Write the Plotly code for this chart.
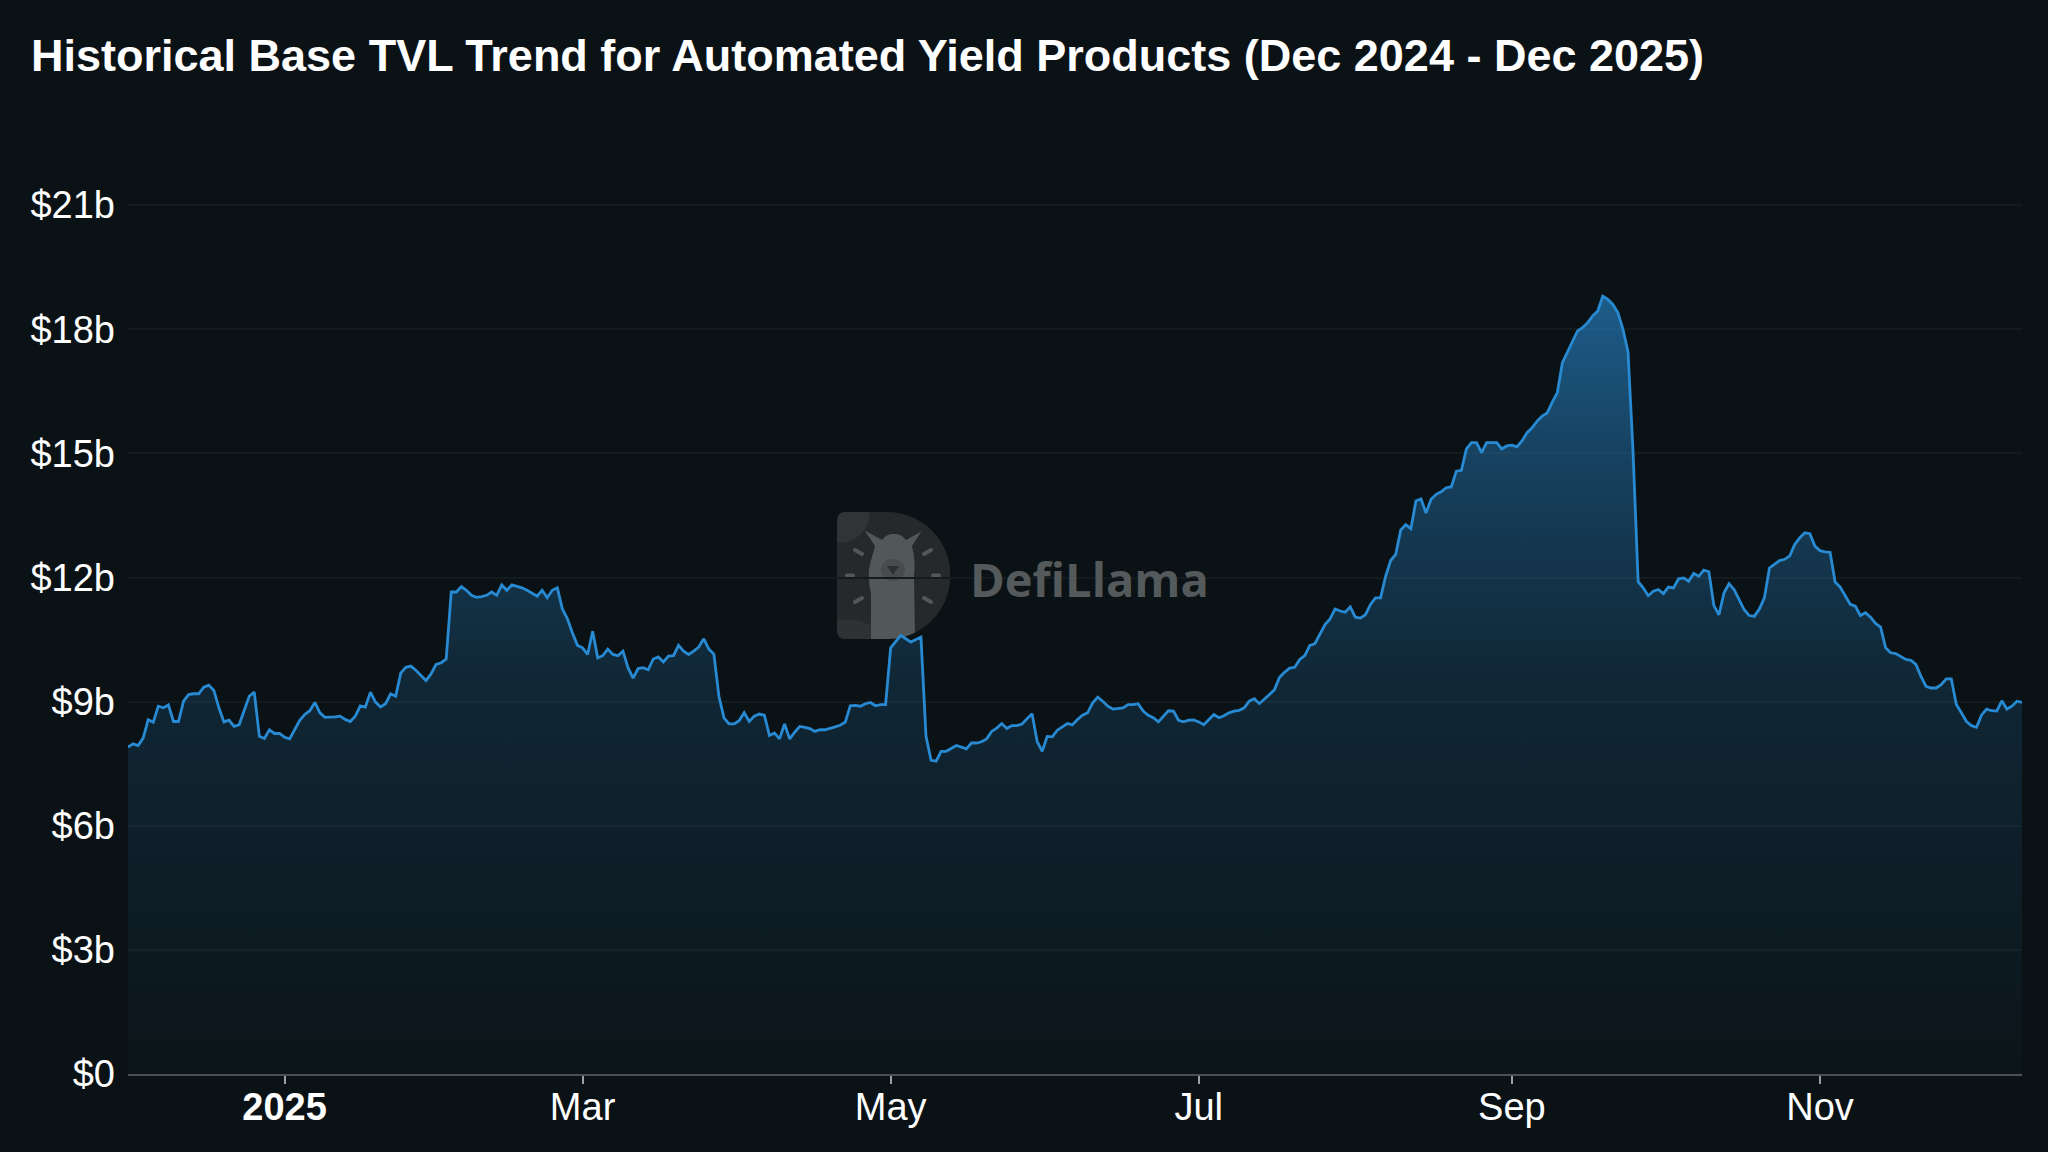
import base64
import pandas as pd
import plotly.graph_objects as go

# ---------------- data (daily, starting 2024-12-01) ----------------
start_date = "2024-12-01"
tvl_billions = [
    7.90, 7.98, 7.94, 8.12, 8.56, 8.50, 8.89, 8.85, 8.92, 8.52,
    8.52, 9.01, 9.17, 9.19, 9.19, 9.35, 9.40, 9.27, 8.85, 8.51,
    8.55, 8.40, 8.44, 8.78, 9.13, 9.23, 8.16, 8.11, 8.32, 8.23,
    8.23, 8.14, 8.10, 8.32, 8.55, 8.69, 8.78, 8.98, 8.73, 8.62,
    8.62, 8.63, 8.65, 8.57, 8.52, 8.65, 8.90, 8.87, 9.23, 8.99,
    8.87, 8.95, 9.19, 9.13, 9.69, 9.83, 9.86, 9.76, 9.63, 9.51,
    9.67, 9.90, 9.94, 10.03, 11.65, 11.65, 11.78, 11.69, 11.57, 11.52,
    11.54, 11.57, 11.65, 11.57, 11.82, 11.69, 11.82, 11.79, 11.75, 11.69,
    11.61, 11.55, 11.69, 11.51, 11.69, 11.75, 11.24, 11.00, 10.66, 10.36,
    10.30, 10.14, 10.70, 10.06, 10.11, 10.27, 10.14, 10.11, 10.22, 9.82,
    9.57, 9.80, 9.82, 9.77, 10.03, 10.08, 9.96, 10.10, 10.11, 10.36,
    10.22, 10.14, 10.22, 10.32, 10.52, 10.27, 10.15, 9.13, 8.61, 8.46,
    8.46, 8.54, 8.73, 8.52, 8.65, 8.70, 8.67, 8.18, 8.24, 8.10,
    8.46, 8.10, 8.26, 8.40, 8.38, 8.35, 8.28, 8.32, 8.32, 8.35,
    8.39, 8.43, 8.50, 8.90, 8.91, 8.89, 8.95, 8.98, 8.90, 8.93,
    8.93, 10.30, 10.46, 10.60, 10.52, 10.44, 10.50, 10.56, 8.16, 7.58,
    7.56, 7.80, 7.80, 7.86, 7.94, 7.90, 7.86, 8.00, 8.00, 8.03,
    8.10, 8.28, 8.36, 8.47, 8.35, 8.42, 8.42, 8.46, 8.59, 8.71,
    8.04, 7.80, 8.16, 8.15, 8.31, 8.40, 8.47, 8.44, 8.57, 8.67,
    8.73, 8.97, 9.11, 9.01, 8.89, 8.82, 8.83, 8.85, 8.93, 8.93,
    8.95, 8.77, 8.67, 8.61, 8.51, 8.65, 8.78, 8.77, 8.55, 8.51,
    8.55, 8.56, 8.51, 8.44, 8.56, 8.69, 8.61, 8.66, 8.73, 8.77,
    8.79, 8.85, 9.01, 9.07, 8.95, 9.05, 9.17, 9.29, 9.59, 9.71,
    9.81, 9.83, 10.02, 10.11, 10.36, 10.40, 10.62, 10.86, 11.00, 11.24,
    11.19, 11.16, 11.29, 11.04, 11.02, 11.10, 11.35, 11.51, 11.51, 12.03,
    12.41, 12.56, 13.15, 13.28, 13.18, 13.85, 13.90, 13.56, 13.89, 14.01,
    14.07, 14.17, 14.19, 14.57, 14.59, 15.11, 15.26, 15.26, 15.02, 15.26,
    15.26, 15.26, 15.11, 15.18, 15.20, 15.16, 15.30, 15.50, 15.62, 15.78,
    15.90, 15.98, 16.24, 16.47, 17.19, 17.45, 17.73, 17.96, 18.04, 18.16,
    18.32, 18.44, 18.80, 18.72, 18.60, 18.40, 18.00, 17.45, 15.00, 11.90,
    11.75, 11.56, 11.67, 11.71, 11.61, 11.77, 11.75, 11.97, 11.99, 11.91,
    12.10, 12.03, 12.18, 12.14, 11.32, 11.10, 11.63, 11.85, 11.71, 11.47,
    11.22, 11.08, 11.06, 11.24, 11.51, 12.23, 12.31, 12.41, 12.44, 12.52,
    12.80, 12.96, 13.08, 13.06, 12.76, 12.65, 12.62, 12.61, 11.89, 11.77,
    11.56, 11.35, 11.31, 11.08, 11.15, 11.04, 10.89, 10.80, 10.30, 10.18,
    10.16, 10.10, 10.02, 10.00, 9.90, 9.61, 9.37, 9.33, 9.33, 9.41,
    9.55, 9.55, 8.93, 8.73, 8.52, 8.42, 8.38, 8.68, 8.82, 8.78,
    8.77, 9.02, 8.82, 8.89, 9.01, 8.98,
]
dates = pd.date_range(start_date, periods=len(tvl_billions), freq="D")

y_tick_values = [0, 3, 6, 9, 12, 15, 18, 21]
y_tick_labels = ["$0", "$3b", "$6b", "$9b", "$12b", "$15b", "$18b", "$21b"]
x_tick_values = ["2025-01-01", "2025-03-01", "2025-05-01", "2025-07-01", "2025-09-01", "2025-11-01"]
x_tick_labels = ["<b>2025</b>", "Mar", "May", "Jul", "Sep", "Nov"]

title_text = "Historical Base TVL Trend for Automated Yield Products (Dec 2024 - Dec 2025)"

# ---------------- style ----------------
BG = "#0b1215"
LINE = "rgb(40,138,210)"
FONT = "Liberation Sans, Arial, Helvetica, sans-serif"

W, H = 2048, 1152
ML, MR, MT, MB = 128, 26, 201, 78
plot_w = W - ML - MR
plot_h = H - MT - MB

fig = go.Figure()
fig.add_trace(go.Scatter(
    x=dates, y=tvl_billions, mode="lines",
    line=dict(color=LINE, width=2.8),
    fill="tozeroy",
    fillgradient=dict(
        type="vertical",
        start=0, stop=max(tvl_billions),
        colorscale=[
            [0.0, "rgba(40,138,210,0.02)"],
            [0.5, "rgba(40,138,210,0.17)"],
            [0.8, "rgba(40,138,210,0.40)"],
            [1.0, "rgba(40,138,210,0.62)"],
        ],
    ),
    hoverinfo="skip",
    showlegend=False,
))

# watermark logo (decorative)
svg = """<svg xmlns="http://www.w3.org/2000/svg" viewBox="0 0 113 127" width="226" height="254">
<defs><clipPath id="c"><path d="M9 0H50A63.5 63.5 0 0 1 50 127H9Q0 127 0 118V9Q0 0 9 0Z"/></clipPath></defs>
<g clip-path="url(#c)">
<rect width="113" height="127" fill="#25292b"/>
<circle cx="2" cy="0" r="31" fill="#303437"/>
<path d="M0 108 Q30 104 52 127 H0Z" fill="#2e3235"/>
<path d="M34 127 L34 82 Q30 64 33 52 L38 34 L27.7 18.4 L45 28 Q50 21 57 22 Q64 21 69 28 L84.4 19.4 L75 34 Q79 50 77 64 L78 127 Z" fill="#525759"/>
<ellipse cx="56" cy="58" rx="12" ry="11" fill="#474b4e"/>
<path d="M50 54 L62 54 L56 63 Z" fill="#2c3033"/>
<g stroke="#525759" stroke-width="4" stroke-linecap="round">
<line x1="10" y1="63.5" x2="16" y2="63.5"/>
<line x1="96" y1="63.5" x2="102" y2="63.5"/>
<line x1="18" y1="38" x2="25" y2="42"/>
<line x1="18" y1="90" x2="25" y2="86"/>
<line x1="87" y1="42" x2="94" y2="38"/>
<line x1="87" y1="86" x2="94" y2="90"/>
</g>
</g>
</svg>"""
logo_src = "data:image/svg+xml;base64," + base64.b64encode(svg.encode()).decode()

def px_x(px):
    return (px - ML) / plot_w

def px_y(py):
    return (H - MB - py) / plot_h

fig.add_layout_image(dict(
    source=logo_src, xref="paper", yref="paper",
    x=px_x(837), y=px_y(512), sizex=113 / plot_w, sizey=127 / plot_h,
    xanchor="left", yanchor="top", sizing="stretch", layer="below",
))
fig.add_annotation(
    text="<b>DefiLlama</b>", xref="paper", yref="paper",
    x=px_x(968), y=px_y(579), xanchor="left", yanchor="middle",
    showarrow=False, font=dict(family="Open Sans, Lato, sans-serif", size=47, color="#54595b"),
)

fig.update_layout(
    width=W, height=H,
    margin=dict(l=ML, r=MR, t=MT, b=MB),
    paper_bgcolor=BG, plot_bgcolor="rgba(0,0,0,0)",
    font=dict(family=FONT, color="#ffffff", size=38),
    title=dict(
        text=title_text, x=31 / W, xanchor="left", xref="container",
        y=1 - 55 / H, yanchor="middle", yref="container",
        font=dict(family=FONT, size=45, color="#ffffff", weight="bold"),
    ),
    xaxis=dict(
        type="date", range=[dates[0], dates[-1]],
        tickvals=x_tick_values, ticktext=x_tick_labels,
        showgrid=False, zeroline=False,
        showline=True, linecolor="#4b5256", linewidth=2,
        ticks="outside", ticklen=8, tickwidth=2, tickcolor="#9aa0a4",
        ticklabelstandoff=-10,
        tickfont=dict(family=FONT, size=38, color="#ffffff"),
        fixedrange=True,
    ),
    yaxis=dict(
        range=[0, 21.1],
        tickvals=y_tick_values, ticktext=y_tick_labels,
        showgrid=True, gridcolor="#131b1e", gridwidth=2,
        zeroline=False, showline=False, ticks="",
        ticklabelstandoff=12,
        tickfont=dict(family=FONT, size=38, color="#ffffff"),
        fixedrange=True,
    ),
    showlegend=False,
)

fig.write_html(
    "out.html",
    config={"displayModeBar": False},
    post_script="document.body.style.margin='0';document.body.style.overflow='hidden';",
)
